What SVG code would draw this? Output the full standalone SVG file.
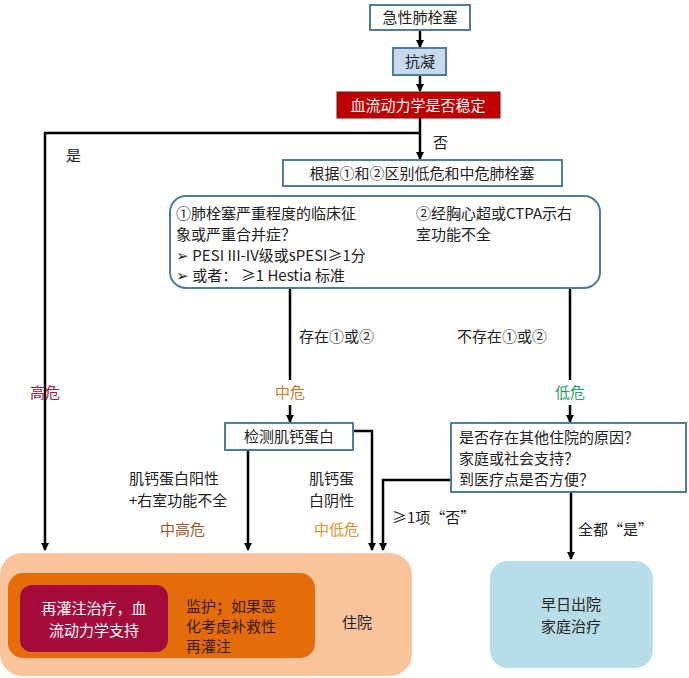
<svg xmlns="http://www.w3.org/2000/svg" width="689" height="678" viewBox="0 0 689 678">
<defs>
<marker id="ah" markerWidth="8" markerHeight="8" refX="7" refY="4" orient="auto" markerUnits="userSpaceOnUse"><path d="M0,0 L8,4 L0,8 z" fill="#000"/></marker>
<style>
text{font-family:"Noto Sans CJK SC","Liberation Sans",sans-serif;font-size:15px;fill:#222}
.b{fill:#fff;stroke:#4f7c98;stroke-width:2}
.c{fill:none;stroke:#000;stroke-width:2.5}
.a{marker-end:url(#ah)}
.w{fill:#fff}
</style>
</defs>
<rect width="689" height="678" fill="#fff"/>
<g id="connectors">
<path class="c a" d="M420,30 V47"/>
<path class="c a" d="M420,75 V91"/>
<path class="c a" d="M420,118 V159"/>
<path class="c a" d="M420,133 H45 V550"/>
<path class="c" d="M290,288 V380"/>
<path class="c" d="M570,288 V380"/>
<path class="c a" d="M290,405 V422"/>
<path class="c a" d="M570,405 V422"/>
<path class="c a" d="M248,450 V550"/>
<path class="c a" d="M353,431 H372 V550"/>
<path class="c a" d="M451,480 H383 V550"/>
<path class="c a" d="M571,492 V559"/>
</g>
<g id="n1"><rect class="b" x="370" y="5" width="100" height="25"/><text x="420" y="23" text-anchor="middle">急性肺栓塞</text></g>
<g id="n2"><rect x="393" y="48" width="53" height="27" fill="#c6d9f1" stroke="#4f7c98" stroke-width="2"/><text x="420" y="67" text-anchor="middle">抗凝</text></g>
<g id="n3"><rect x="337" y="92" width="163" height="26" fill="#c00000" stroke="#7a1010" stroke-width="1"/><text class="w" x="418" y="111" text-anchor="middle">血流动力学是否稳定</text></g>
<text x="433" y="148">否</text>
<text x="66" y="161">是</text>
<g id="n4"><rect class="b" x="283" y="160" width="279" height="26"/><text x="422" y="179" text-anchor="middle">根据①和②区别低危和中危肺栓塞</text></g>
<g id="n5"><rect class="b" x="170" y="196" width="430" height="92" rx="16"/>
<text x="176" y="219">①肺栓塞严重程度的临床征</text>
<text x="176" y="240">象或严重合并症？</text>
<text x="176" y="261" font-size="14">➢  PESI III-IV级或sPESI≥1分</text>
<text x="176" y="281" font-size="14">➢  或者：  ≥1 Hestia 标准</text>
<text x="416" y="219">②经胸心超或CTPA示右</text>
<text x="416" y="240">室功能不全</text></g>
<text x="299" y="342">存在①或②</text>
<text x="457" y="342">不存在①或②</text>
<text x="45" y="398" text-anchor="middle" style="fill:#a0203a">高危</text>
<text x="290" y="398" text-anchor="middle" style="fill:#d07a2a">中危</text>
<text x="570" y="398" text-anchor="middle" style="fill:#1f9f5f">低危</text>
<g id="n6"><rect class="b" x="225" y="423" width="128" height="27"/><text x="289" y="442" text-anchor="middle">检测肌钙蛋白</text></g>
<g id="n7"><rect class="b" x="451" y="423" width="235" height="69"/>
<text x="459" y="443">是否存在其他住院的原因？</text>
<text x="459" y="464">家庭或社会支持？</text>
<text x="459" y="485">到医疗点是否方便？</text></g>
<text x="129" y="484">肌钙蛋白阳性</text>
<text x="129" y="506">+右室功能不全</text>
<text x="160" y="535" style="fill:#a05a2a">中高危</text>
<text x="309" y="484">肌钙蛋</text>
<text x="309" y="506">白阴性</text>
<text x="314" y="535" style="fill:#e0902a">中低危</text>
<text x="392" y="523" font-size="14">≥1项“否”</text>
<text x="578" y="535">全都“是”</text>
<g id="n8"><rect x="0" y="553" width="412" height="123" rx="22" fill="#f9c49b"/>
<text x="357" y="628" text-anchor="middle">住院</text></g>
<g id="n9"><rect x="8" y="573" width="307" height="85" rx="15" fill="#e46c0a"/>
<text x="186" y="612" style="fill:#3a1a00">监护；如果恶</text>
<text x="186" y="632" style="fill:#3a1a00">化考虑补救性</text>
<text x="186" y="652" style="fill:#3a1a00">再灌注</text></g>
<g id="n10"><rect x="20" y="585" width="148" height="67" rx="12" fill="#a50c3c"/>
<text class="w" x="94" y="614" text-anchor="middle">再灌注治疗，血</text>
<text class="w" x="94" y="636" text-anchor="middle">流动力学支持</text></g>
<g id="n11"><rect x="490" y="561" width="163" height="107" rx="18" fill="#b7dde8"/>
<text x="571" y="610" text-anchor="middle">早日出院</text>
<text x="571" y="632" text-anchor="middle">家庭治疗</text></g>
</svg>
